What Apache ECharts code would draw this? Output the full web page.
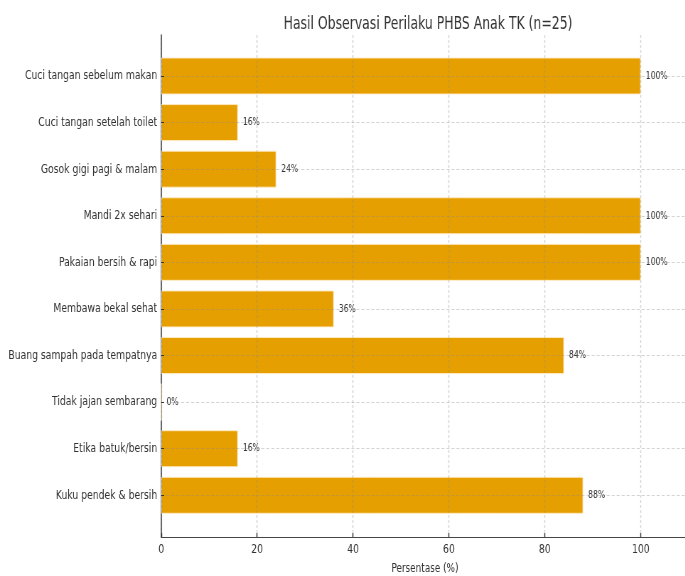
<!DOCTYPE html>
<html>
<head>
<meta charset="utf-8">
<script src="https://cdn.jsdelivr.net/npm/echarts@6/dist/echarts.min.js"></script>
<style>
html,body{margin:0;padding:0;background:#fff;overflow:hidden;}
#wrap{width:685px;height:576px;overflow:hidden;position:relative;}
#c{height:576px;transform-origin:0 0;position:absolute;left:0;top:0;}
</style>
</head>
<body>
<div id="wrap"><div id="c"></div></div>
<script>
const categories = [
  "Cuci tangan sebelum makan",
  "Cuci tangan setelah toilet",
  "Gosok gigi pagi & malam",
  "Mandi 2x sehari",
  "Pakaian bersih & rapi",
  "Membawa bekal sehat",
  "Buang sampah pada tempatnya",
  "Tidak jajan sembarang",
  "Etika batuk/bersin",
  "Kuku pendek & bersih"
];
const percentages = [100, 16, 24, 100, 100, 36, 84, 0, 16, 88];
const xTicks = [0, 20, 40, 60, 80, 100];
const titleText = "Hasil Observasi Perilaku PHBS Anak TK (n=25)";
const xName = "Persentase (%)";

// The reference text is horizontally condensed; draw wider and squeeze the whole canvas.
const S = 0.71;
const W = 685 / S;
const el = document.getElementById('c');
el.style.width = W + 'px';
el.style.transform = 'scaleX(' + S + ')';
const X = v => v / S;

const FONT = "'DejaVu Sans', sans-serif";
const chart = echarts.init(el, null, {renderer: 'canvas', width: W, height: 576});
const vGrid = {show: true, lineStyle: {color: 'rgba(140,140,140,0.38)', type: [3, 2], width: 1 / S}};
const hGrid = {show: true, lineStyle: {color: 'rgba(140,140,140,0.38)', type: [3 / S, 2 / S], width: 1}};

chart.setOption({
  animation: false,
  backgroundColor: '#fff',
  textStyle: {fontFamily: FONT},
  title: {
    text: titleText,
    left: X(424),
    textAlign: 'center',
    top: 10,
    textStyle: {fontFamily: FONT, fontSize: 17.5, fontWeight: 'normal', color: '#333'}
  },
  grid: [
    {left: X(161), width: X(527), top: 76, height: 419.3, containLabel: false, outerBoundsMode: 'none'},
    {left: X(161), width: X(527), top: 35, height: 502, containLabel: false, outerBoundsMode: 'none'}
  ],
  xAxis: [
    {gridIndex: 0, type: 'value', min: 0, max: 110, show: false},
    {
      gridIndex: 1, type: 'value', min: 0, max: 110, interval: 20, z: 5,
      axisLine: {show: true, lineStyle: {color: '#444', width: 1.2}},
      axisTick: {show: true, inside: true, length: 4, lineStyle: {color: '#333', width: 1 / S}},
      axisLabel: {show: true, fontSize: 13, color: '#333', margin: 6, showMaxLabel: false, fontFamily: FONT,
        formatter: v => xTicks.includes(v) ? String(v) : ''},
      splitLine: vGrid,
      name: xName, nameLocation: 'middle', nameGap: 25,
      nameTextStyle: {fontSize: 12.5, color: '#333', fontFamily: FONT}
    }
  ],
  yAxis: [
    {
      gridIndex: 0, type: 'category', data: categories, inverse: true, boundaryGap: false, z: 5,
      axisLine: {show: false},
      axisTick: {show: true, inside: true, length: X(3), alignWithLabel: true, lineStyle: {color: '#333'}},
      axisLabel: {fontSize: 13, color: '#333', margin: X(4), fontFamily: FONT},
      splitLine: hGrid
    },
    {
      gridIndex: 1, type: 'value', min: 0, max: 1,
      axisLine: {show: true, lineStyle: {color: '#444', width: 1.2 / S}},
      axisTick: {show: false}, axisLabel: {show: false}, splitLine: {show: false}
    }
  ],
  series: [{
    type: 'bar',
    xAxisIndex: 0, yAxisIndex: 0,
    data: percentages,
    barWidth: 37,
    itemStyle: {color: '#E69F00', borderColor: 'rgba(255,235,200,0.9)', borderWidth: 1},
    label: {show: true, position: 'right', distance: X(5), formatter: '{c}%', fontSize: 10.7, color: '#333', fontFamily: FONT}
  }]
});
</script>
</body>
</html>
